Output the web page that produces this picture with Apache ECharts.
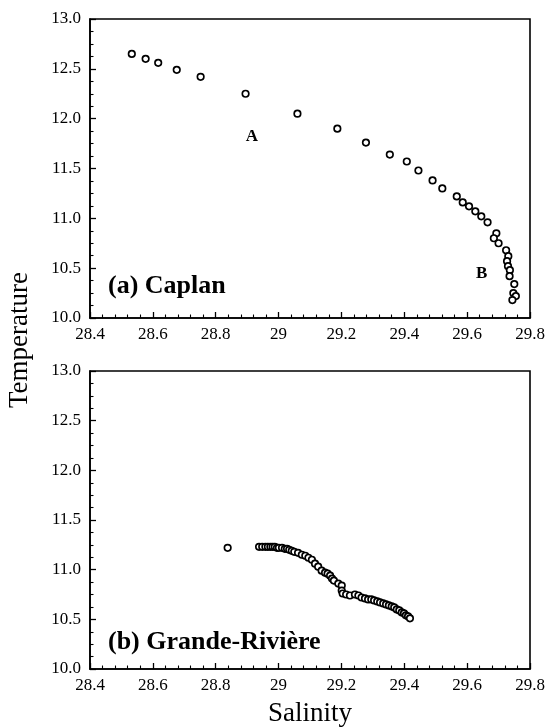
<!DOCTYPE html>
<html>
<head>
<meta charset="utf-8">
<script src="https://cdn.jsdelivr.net/npm/echarts@6/dist/echarts.min.js"></script>
<style>
html,body{margin:0;padding:0;background:#fff;}
#chart{width:555px;height:728px;}
</style>
</head>
<body>
<div id="chart"></div>
<script>
// ---- data ----
const caplanSalinity = [28.533,28.577,28.617,28.676,28.752,28.895,29.060,29.187,29.278,29.354,29.408,29.445,29.490,29.521,29.567,29.586,29.606,29.626,29.645,29.665,29.693,29.685,29.700,29.724,29.731,29.727,29.730,29.736,29.735,29.750,29.747,29.755,29.744];
const caplanTemp     = [12.65,12.60,12.56,12.49,12.42,12.25,12.05,11.90,11.76,11.64,11.57,11.48,11.38,11.30,11.22,11.16,11.12,11.07,11.02,10.96,10.85,10.80,10.75,10.68,10.62,10.57,10.52,10.48,10.42,10.34,10.25,10.22,10.18];

const grandeSalinity = [28.838,28.938,28.948,28.958,28.966,28.974,28.981,28.988,28.995,29.001,29.011,29.020,29.027,29.034,29.042,29.050,29.062,29.074,29.085,29.095,29.106,29.116,29.126,29.137,29.148,29.156,29.164,29.170,29.176,29.190,29.201,29.201,29.204,29.215,29.227,29.243,29.254,29.264,29.275,29.285,29.295,29.304,29.314,29.323,29.333,29.342,29.351,29.360,29.368,29.376,29.384,29.392,29.399,29.405,29.412,29.418];
const grandeTemp     = [11.22,11.23,11.23,11.23,11.23,11.23,11.23,11.23,11.22,11.22,11.22,11.21,11.21,11.20,11.19,11.18,11.17,11.15,11.14,11.12,11.10,11.06,11.03,10.99,10.97,10.96,10.94,10.91,10.89,10.86,10.84,10.79,10.76,10.75,10.74,10.75,10.74,10.72,10.71,10.70,10.70,10.69,10.68,10.67,10.66,10.65,10.64,10.63,10.62,10.60,10.59,10.57,10.56,10.54,10.53,10.51];

const xTickValues = [28.4,28.6,28.8,29.0,29.2,29.4,29.6,29.8];
const xTickLabels = ['28.4','28.6','28.8','29','29.2','29.4','29.6','29.8'];
const yTickValues = [10.0,10.5,11.0,11.5,12.0,12.5,13.0];
const yTickLabels = ['10.0','10.5','11.0','11.5','12.0','12.5','13.0'];

const annotations = [{text:'A', s:28.915, t:11.82}, {text:'B', s:29.646, t:10.45}];
const panelTitles = ['(a) Caplan', '(b) Grande-Rivière'];
const xAxisName = 'Salinity';
const yAxisName = 'Temperature';

// ---- chart ----
const FONT = '"Liberation Serif","Times New Roman",serif';
function lookup(vals, labels, v){
  for (let i=0;i<vals.length;i++) if (Math.abs(vals[i]-v)<1e-6) return labels[i];
  return '';
}
function xAxisCfg(gi, name){
  return {
    gridIndex: gi, type:'value', min:28.4, max:29.8, interval:0.2,
    name: name || '', nameLocation:'middle', nameGap:31,
    nameTextStyle:{fontFamily:FONT, fontSize:27, color:'#000'},
    axisLine:{show:true, onZero:false, lineStyle:{color:'#000', width:1.6}},
    axisTick:{show:true, inside:true, length:6, lineStyle:{color:'#000', width:1.3}},
    minorTick:{show:true, splitNumber:5, length:3.5, lineStyle:{color:'#000', width:1.1}},
    splitLine:{show:false},
    axisLabel:{fontFamily:FONT, fontSize:17, color:'#000', margin:8,
      formatter:v=>lookup(xTickValues,xTickLabels,v)}
  };
}
function yAxisCfg(gi){
  return {
    gridIndex: gi, type:'value', min:10, max:13, interval:0.5,
    axisLine:{show:true, onZero:false, lineStyle:{color:'#000', width:1.6}},
    axisTick:{show:true, inside:true, length:6, lineStyle:{color:'#000', width:1.3}},
    minorTick:{show:true, splitNumber:4, length:3.5, lineStyle:{color:'#000', width:1.1}},
    splitLine:{show:false},
    axisLabel:{fontFamily:FONT, fontSize:17, color:'#000', margin:9,
      formatter:v=>lookup(yTickValues,yTickLabels,v)}
  };
}
const sym = {symbol:'circle', symbolSize:6.5,
  itemStyle:{color:'#fff', borderColor:'#000', borderWidth:1.7, opacity:1}};

const chart = echarts.init(document.getElementById('chart'), null, {renderer:'canvas'});
chart.setOption({
  animation:false,
  backgroundColor:'#fff',
  grid:[
    {left:90, top:19, width:440, height:299, show:true, borderColor:'#000', borderWidth:1.6, backgroundColor:'transparent'},
    {left:90, top:371, width:440, height:301, show:true, borderColor:'#000', borderWidth:1.6, backgroundColor:'transparent'}
  ],
  xAxis:[xAxisCfg(0), xAxisCfg(1, xAxisName)],
  yAxis:[yAxisCfg(0), yAxisCfg(1)],
  title:[
    {text:panelTitles[0], left:103, top:268, textStyle:{fontFamily:FONT, fontSize:26, fontWeight:'bold', color:'#000'}},
    {text:panelTitles[1], left:103, top:624, textStyle:{fontFamily:FONT, fontSize:26, fontWeight:'bold', color:'#000'}}
  ],
  graphic:[
    {type:'text', x:20, y:340, rotation:Math.PI/2,
     style:{text:yAxisName, fontFamily:FONT, fontSize:27, fill:'#000', textAlign:'center', textVerticalAlign:'middle'}}
  ],
  series:[
    Object.assign({type:'scatter', xAxisIndex:0, yAxisIndex:0,
      data: caplanSalinity.map((s,i)=>[s, caplanTemp[i]]),
      markPoint:{symbol:'circle', symbolSize:0, silent:true,
        label:{show:true, position:'inside', fontFamily:FONT, fontSize:17, fontWeight:'bold', color:'#000', formatter:p=>p.name},
        data: annotations.map(a=>({name:a.text, coord:[a.s,a.t]}))}
    }, sym),
    Object.assign({type:'scatter', xAxisIndex:1, yAxisIndex:1,
      data: grandeSalinity.map((s,i)=>[s, grandeTemp[i]])}, sym)
  ]
});
</script>
</body>
</html>
